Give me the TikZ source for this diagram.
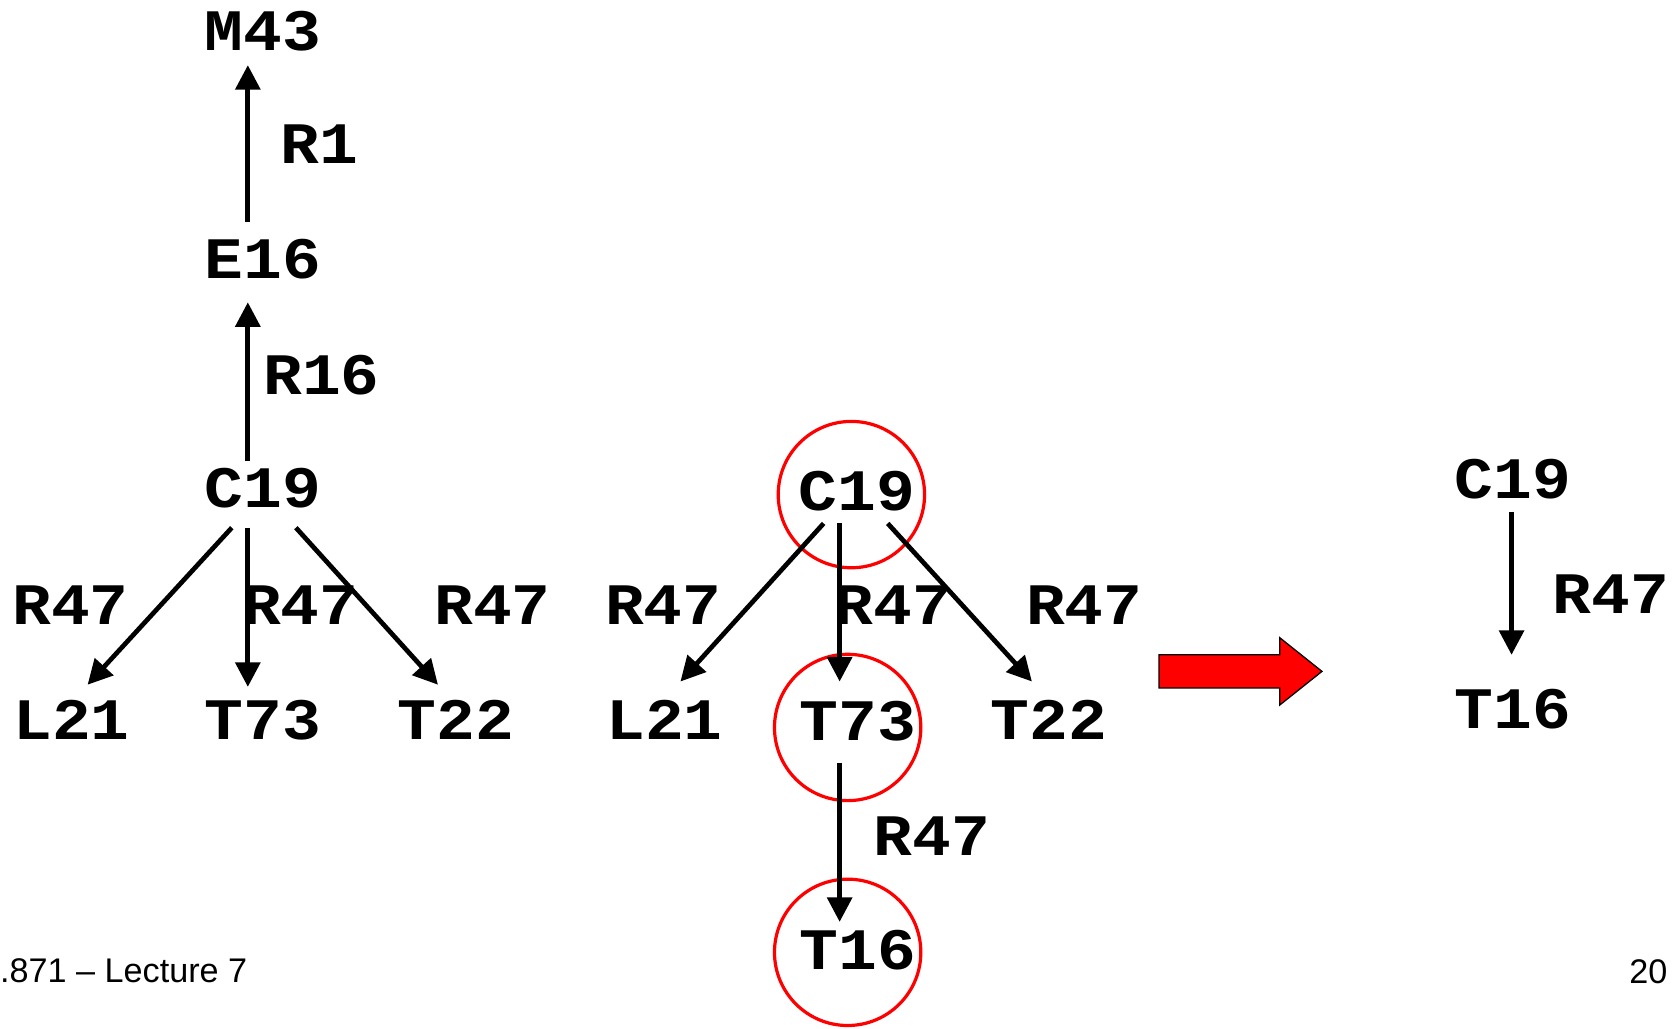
\documentclass[tikz,border=0pt]{standalone}
\usepackage{fontspec}
\setmainfont{Liberation Sans}
\newfontfamily\codefont[FakeStretch=1.1]{Liberation Mono}
\usetikzlibrary{arrows.meta}
\tikzset{
  lbl/.style={font=\codefont\bfseries\fontsize{55}{60}\selectfont, inner sep=0pt, anchor=base},
  arr/.style={line width=4.4pt, -{Triangle[width=23pt,length=23pt]}},
  ring/.style={circle, draw=red, line width=3pt, minimum size=137pt, inner sep=0pt},
  foot/.style={font=\fontsize{32}{36}\selectfont, inner sep=0pt},
}
\begin{document}
\begin{tikzpicture}[x=1pt,y=1pt]
\fill[white] (0,0) rectangle (1568,963);
\useasboundingbox (0,0) rectangle (1568,963);

% left tree
\node[lbl] (m43) at (246,916) {M43};
\node[lbl] (e16) at (246,702) {E16};
\node[lbl] (c19a) at (246,488) {C19};
\node[lbl] (r1) at (299,810) {R1};
\node[lbl] (r16) at (301,594) {R16};
\node[lbl] (ra1) at (66,378) {R47};
\node[lbl] (ra2) at (281,378) {R47};
\node[lbl] (ra3) at (461,378) {R47};
\node[lbl] (l21a) at (67,271) {L21};
\node[lbl] (t73a) at (246,271) {T73};
\node[lbl] (t22a) at (427,271) {T22};

\draw[arr] ([shift={(-14,53)}]e16.base) -- ([shift={(-14,-14)}]m43.base);
\draw[arr] ([shift={(-14,43)}]c19a.base) -- ([shift={(-14,-22)}]e16.base);
\draw[arr] ([shift={(-29,-19)}]c19a.base) -- ([shift={(15,51)}]l21a.base);
\draw[arr] ([shift={(-14,-19)}]c19a.base) -- ([shift={(-14,49)}]t73a.base);
\draw[arr] ([shift={(31,-19)}]c19a.base) -- ([shift={(-17,51)}]t22a.base);

% middle tree
\node[lbl] (c19b) at (802,485) {C19};
\node[ring] (c19bring) at (797,500) {};
\node[lbl] (rb1) at (621,378) {R47};
\node[lbl] (rb2) at (836,378) {R47};
\node[lbl] (rb3) at (1015,378) {R47};
\node[lbl] (l21b) at (622,271) {L21};
\node[lbl] (t73b) at (803,270) {T73};
\node[lbl] (t22b) at (982,271) {T22};
\node[ring] (t73bring) at (793.5,282) {};
\node[lbl] (rb4) at (872.5,162) {R47};
\node[lbl] (t16b) at (803,55) {T16};
\node[ring] (t16bring) at (793.5,71.5) {};

\draw[arr] ([shift={(-26,-27)}]c19bring.center) -- ([shift={(15,54)}]l21b.base);
\draw[arr] ([shift={(-11,-27)}]c19bring.center) -- ([shift={(-7.5,43)}]t73bring.center);
\draw[arr] ([shift={(34,-27)}]c19bring.center) -- ([shift={(-16,54)}]t22b.base);
\draw[arr] ([shift={(-7.5,-33)}]t73bring.center) -- ([shift={(-7.5,28.5)}]t16bring.center);

% block arrow
\draw[fill=red, line width=1.2pt] (1085,319) -- (1198,319) -- (1198,303) -- (1237.5,334.5)
  -- (1198,366) -- (1198,350) -- (1085,350) -- cycle;

% right result
\node[lbl] (c19c) at (1416,496) {C19};
\node[lbl] (t16c) at (1416,281) {T16};
\node[lbl] (rc) at (1508,389) {R47};
\draw[arr] ([shift={(-1,-12)}]c19c.base) -- ([shift={(-1,69)}]t16c.base);

% footer
\node[foot, anchor=base west] (foot) at (0,43) {.871 – Lecture 7};
\node[foot, anchor=base east] (pg) at (1561,42) {20};
\end{tikzpicture}
\end{document}
